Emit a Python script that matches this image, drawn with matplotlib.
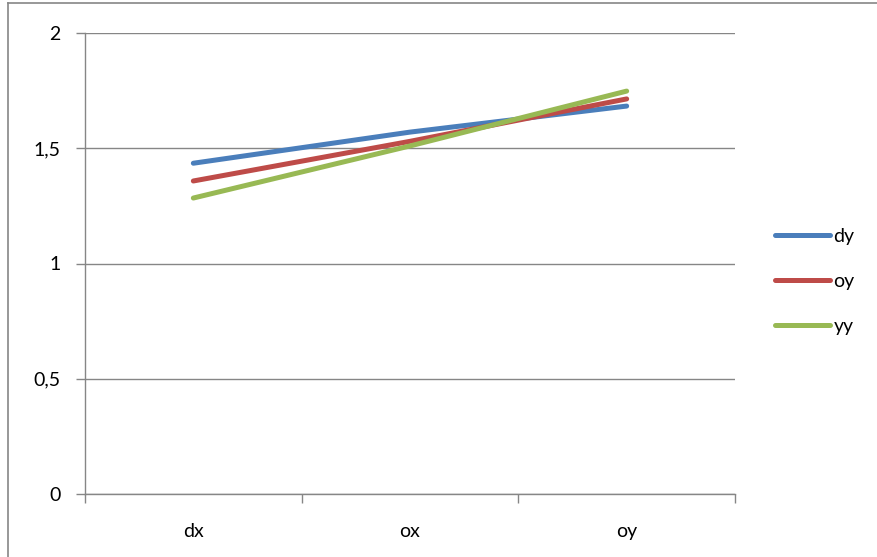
import matplotlib.pyplot as plt
from matplotlib.lines import Line2D

categories = ['dx', 'ox', 'oy']
dy = [1.435, 1.570, 1.683]
oy = [1.358, 1.530, 1.714]
yy = [1.284, 1.510, 1.748]

series_names = ['dy', 'oy', 'yy']
colors = ['#4A7EBB', '#BE4B48', '#98B954']
grid_color = '#868686'

plt.rcParams['font.family'] = ['Lato', 'DejaVu Sans']

fig = plt.figure(figsize=(8.78, 5.57), dpi=100)
ax = fig.add_axes([85 / 878, 1 - 494 / 557, 650 / 878, 461 / 557])

x = list(range(len(categories)))
for vals, name, c in zip([dy, oy, yy], series_names, colors):
    ax.plot(x, vals, color=c, lw=3.6, solid_capstyle='round', label=name)

ax.set_xlim(-0.5, len(categories) - 0.5)
ax.set_ylim(0, 2)
ax.set_yticks([0, 0.5, 1, 1.5, 2])
ax.set_yticklabels(['0', '0,5', '1', '1,5', '2'])
ax.yaxis.grid(True, color=grid_color, lw=1)
ax.set_axisbelow(True)

ax.set_xticks(x)
ax.set_xticklabels(categories)
ax.set_xticks([i - 0.5 for i in range(len(categories) + 1)], minor=True)
ax.tick_params(axis='x', which='major', length=0, pad=21, labelsize=14)
ax.tick_params(axis='x', which='minor', length=6.5, color=grid_color, width=1)
ax.tick_params(axis='y', length=6.5, color=grid_color, width=1, pad=11, labelsize=14)

for side in ['top', 'right']:
    ax.spines[side].set_visible(False)
for side in ['left', 'bottom']:
    ax.spines[side].set_color(grid_color)
    ax.spines[side].set_linewidth(1)

ax.legend(loc='center left', bbox_to_anchor=(775 / 878, 1 - 281.5 / 557),
          bbox_transform=fig.transFigure, frameon=False, fontsize=14,
          handlelength=2.85, handletextpad=0.15, labelspacing=1.45,
          borderpad=0, borderaxespad=0)

# outer chart border
fig.add_artist(Line2D([8 / 878, 8 / 878], [0, 1 - 3 / 557], color=grid_color, lw=1.2,
                      transform=fig.transFigure))
fig.add_artist(Line2D([8 / 878, 1], [1 - 3 / 557, 1 - 3 / 557], color=grid_color, lw=1.2,
                      transform=fig.transFigure))

fig.savefig('out.png', dpi=100)
